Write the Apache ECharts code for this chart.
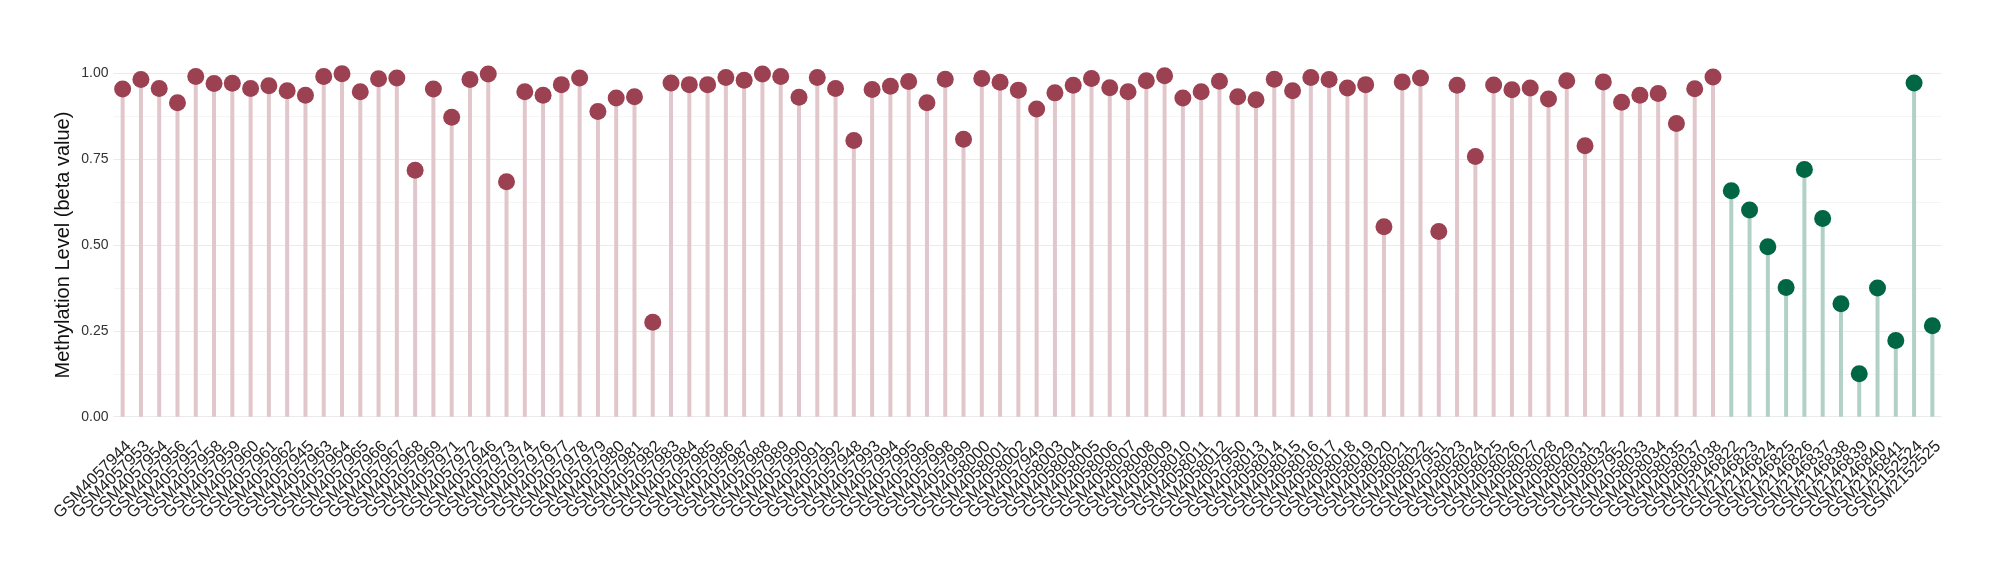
<!DOCTYPE html>
<html><head><meta charset="utf-8">
<script src="https://cdn.jsdelivr.net/npm/echarts@6/dist/echarts.min.js"></script>
<style>html,body{margin:0;padding:0;background:#fff}#c{width:2000px;height:580px}</style>
</head><body><div id="c"></div>
<script>
const tumorSamples = ["GSM4057944","GSM4057953","GSM4057954","GSM4057956","GSM4057957","GSM4057958","GSM4057959","GSM4057960","GSM4057961","GSM4057962","GSM4057945","GSM4057963","GSM4057964","GSM4057965","GSM4057966","GSM4057967","GSM4057968","GSM4057969","GSM4057971","GSM4057972","GSM4057946","GSM4057973","GSM4057974","GSM4057976","GSM4057977","GSM4057978","GSM4057979","GSM4057980","GSM4057981","GSM4057982","GSM4057983","GSM4057984","GSM4057985","GSM4057986","GSM4057987","GSM4057988","GSM4057989","GSM4057990","GSM4057991","GSM4057992","GSM4057948","GSM4057993","GSM4057994","GSM4057995","GSM4057996","GSM4057998","GSM4057999","GSM4058000","GSM4058001","GSM4058002","GSM4057949","GSM4058003","GSM4058004","GSM4058005","GSM4058006","GSM4058007","GSM4058008","GSM4058009","GSM4058010","GSM4058011","GSM4058012","GSM4057950","GSM4058013","GSM4058014","GSM4058015","GSM4058016","GSM4058017","GSM4058018","GSM4058019","GSM4058020","GSM4058021","GSM4058022","GSM4057951","GSM4058023","GSM4058024","GSM4058025","GSM4058026","GSM4058027","GSM4058028","GSM4058029","GSM4058031","GSM4058032","GSM4057952","GSM4058033","GSM4058034","GSM4058035","GSM4058037","GSM4058038"];
const tumorValues = [0.954,0.982,0.956,0.914,0.991,0.970,0.971,0.956,0.964,0.949,0.936,0.991,0.999,0.946,0.984,0.986,0.718,0.954,0.872,0.982,0.998,0.684,0.946,0.936,0.967,0.986,0.889,0.928,0.932,0.275,0.972,0.967,0.967,0.988,0.980,0.998,0.991,0.930,0.988,0.956,0.804,0.953,0.962,0.976,0.914,0.983,0.808,0.985,0.974,0.951,0.896,0.943,0.965,0.985,0.958,0.946,0.978,0.993,0.928,0.946,0.977,0.932,0.923,0.983,0.949,0.988,0.982,0.957,0.967,0.553,0.975,0.986,0.539,0.965,0.758,0.966,0.952,0.957,0.925,0.978,0.789,0.975,0.916,0.936,0.941,0.854,0.955,0.989];
const normalSamples = ["GSM2146822","GSM2146823","GSM2146824","GSM2146825","GSM2146826","GSM2146837","GSM2146838","GSM2146839","GSM2146840","GSM2146841","GSM2152524","GSM2152525"];
const normalValues = [0.658,0.602,0.495,0.376,0.720,0.577,0.329,0.125,0.375,0.222,0.972,0.265];

const tumorPoint = '#9B4152', tumorStem = '#E1C6CB';
const normalPoint = '#006644', normalStem = '#B2D1C5';

const categories = tumorSamples.concat(normalSamples);
const stemData = tumorValues.map(v => ({value: v, itemStyle: {color: tumorStem}}))
  .concat(normalValues.map(v => ({value: v, itemStyle: {color: normalStem}})));
const pointData = tumorValues.map(v => ({value: v, itemStyle: {color: tumorPoint}}))
  .concat(normalValues.map(v => ({value: v, itemStyle: {color: normalPoint}})));

const chart = echarts.init(document.getElementById('c'));
chart.setOption({
  animation: false,
  backgroundColor: '#ffffff',
  grid: {left: 113.5, right: 58.5, top: 73.3, bottom: 163.3},
  xAxis: {
    type: 'category',
    data: categories,
    axisLine: {show: false},
    axisTick: {show: false},
    splitLine: {show: false},
    axisLabel: {
      interval: 0, rotate: 45, fontSize: 16.5, color: '#222',
      fontFamily: 'Liberation Sans', margin: 21,
      verticalAlign: 'top', lineHeight: 17
    }
  },
  yAxis: {
    type: 'value', min: 0, max: 1, interval: 0.25,
    name: 'Methylation Level (beta value)',
    nameLocation: 'middle', nameGap: 40, nameMoveOverlap: false,
    nameTextStyle: {fontSize: 20, color: '#111', fontFamily: 'Liberation Sans'},
    axisLine: {show: false}, axisTick: {show: false},
    axisLabel: {formatter: v => v.toFixed(2), fontSize: 14, color: '#333', fontFamily: 'Liberation Sans', margin: 5},
    splitLine: {lineStyle: {color: '#EBEBEB', width: 1}},
    minorTick: {show: false, splitNumber: 2},
    minorSplitLine: {show: true, lineStyle: {color: '#F5F5F5', width: 1}}
  },
  series: [
    {type: 'bar', data: stemData, barWidth: 4, silent: true},
    {type: 'scatter', data: pointData, symbolSize: 17, z: 3, clip: false, itemStyle: {opacity: 1}}
  ]
});
</script></body></html>
